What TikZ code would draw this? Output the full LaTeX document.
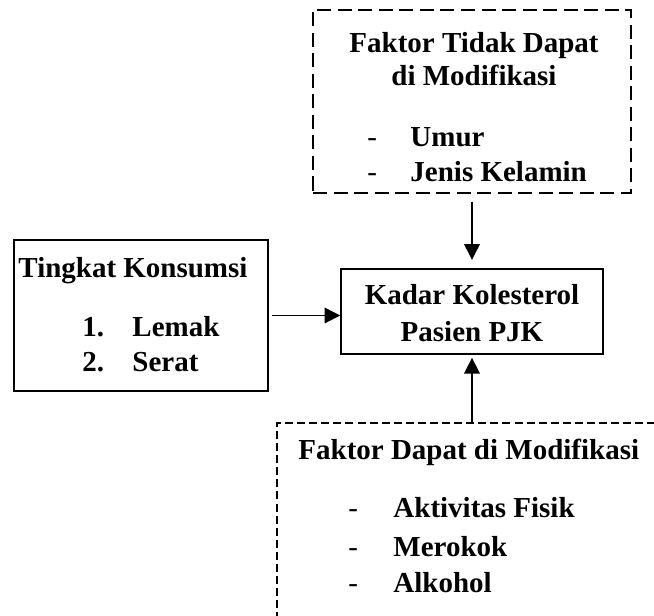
\documentclass[tikz,border=0pt]{standalone}
\usepackage{fontspec}
\setmainfont{Liberation Serif}
\usetikzlibrary{arrows.meta}

\newcommand{\px}{0.414pt}
\tikzset{
  kotak/.style={draw, line width=0.6pt, inner sep=0},
  kotakputus/.style={draw, line width=1.1pt, dash pattern=on 5.8pt off 2.7pt, inner sep=0},
  kotaktipis/.style={draw, line width=0.5pt, dash pattern=on 3.3pt off 1.7pt, inner sep=0},
  teks/.style={font=\bfseries\fontsize{12}{15}\selectfont, inner sep=0, anchor=base west},
  tengah/.style={teks, anchor=base},
  strip/.style={font=\fontsize{12}{15}\selectfont, inner sep=0, anchor=base west},
  panah/.style={-{Triangle[length=6.5pt, width=6.5pt]}, line width=0.5pt}
}

\begin{document}
\begin{tikzpicture}[x=0.414pt, y=-0.414pt]
    \useasboundingbox (0,0) rectangle (654,616);
    \clip (0,0) rectangle (654,616);

    % kotak
    \node[kotakputus, minimum width=318*\px, minimum height=183*\px] (tidakdapat) at (472,101.5) {};
    \node[kotak, minimum width=254*\px, minimum height=151*\px] (konsumsi) at (141,315.5) {};
    \node[kotak, minimum width=262*\px, minimum height=85*\px] (kadar) at (472,311.5) {};
    \node[kotaktipis, minimum width=423*\px, minimum height=257*\px] (dapat) at (488.5,551.5) {};

    % faktor tidak dapat di modifikasi
    \node[tengah] (judulA) at (474,53) {Faktor Tidak Dapat};
    \node[tengah] (judulB) at (474,86) {di Modifikasi};
    \node[strip] (stripA) at (367,147) {-};
    \node[teks] (umur) at (410,147) {Umur};
    \node[strip] (stripB) at (367,182) {-};
    \node[teks] (kelamin) at (410,182) {Jenis Kelamin};

    % tingkat konsumsi
    \node[teks] (judulC) at (18,278) {Tingkat Konsumsi};
    \node[teks] (noA) at (82,337) {1.};
    \node[teks] (lemak) at (132,337) {Lemak};
    \node[teks] (noB) at (82,372) {2.};
    \node[teks] (serat) at (132,372) {Serat};

    % kadar kolesterol
    \node[tengah] (judulD) at (472,305) {Kadar Kolesterol};
    \node[tengah] (judulE) at (472,342) {Pasien PJK};

    % faktor dapat di modifikasi
    \node[teks] (judulF) at (298,460) {Faktor Dapat di Modifikasi};
    \node[strip] (stripC) at (348,518) {-};
    \node[teks] (fisik) at (393,518) {Aktivitas Fisik};
    \node[strip] (stripD) at (348,557) {-};
    \node[teks] (rokok) at (393,557) {Merokok};
    \node[strip] (stripE) at (348,593) {-};
    \node[teks] (alkohol) at (393,593) {Alkohol};

    % panah
    \draw[panah, shorten <=3pt, shorten >=3.5pt] (tidakdapat.south -| kadar.north) -- (kadar.north);
    \draw[panah, shorten <=1.5pt] (konsumsi.east) -- (konsumsi.east -| kadar.west);
    \draw[panah, shorten >=1.3pt] (kadar.south |- dapat.north) -- (kadar.south);
\end{tikzpicture}
\end{document}
